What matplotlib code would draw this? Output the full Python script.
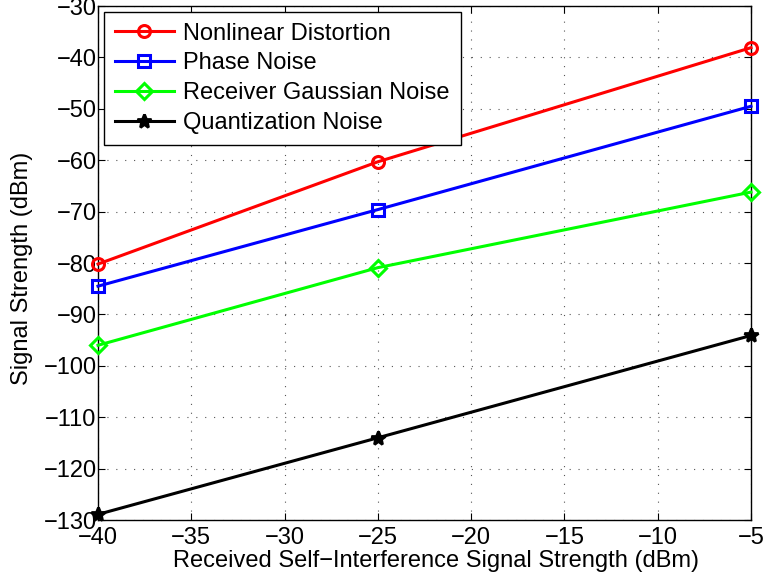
import matplotlib
matplotlib.use('Agg')
import matplotlib.pyplot as plt

plt.rcParams['font.family'] = ['Liberation Sans', 'DejaVu Sans']

# data
x_si = [-40, -25, -5]
nonlinear = [-80.2, -60.3, -38.1]
phase = [-84.5, -69.6, -49.5]
gaussian = [-96.0, -80.9, -66.2]
quantization = [-128.9, -114.0, -94.1]

x_ticks = [-40, -35, -30, -25, -20, -15, -10, -5]
y_ticks = [-130, -120, -110, -100, -90, -80, -70, -60, -50, -40, -30]

fig = plt.figure(figsize=(7.64, 5.86), dpi=100)
ax = fig.add_axes([0.1283, 0.1126, 0.8547, 0.8771])

ax.plot(x_si, nonlinear, color='#ff0000', lw=2.2, marker='o', ms=8.6,
        mfc='none', mew=2.2, label='Nonlinear Distortion', clip_on=False, zorder=3)
ax.plot(x_si, phase, color='#0000ff', lw=2.2, marker='s', ms=8.6,
        mfc='none', mew=2.2, label='Phase Noise', clip_on=False, zorder=3)
ax.plot(x_si, gaussian, color='#00ff00', lw=2.2, marker='D', ms=8,
        mfc='none', mew=2.2, label='Receiver Gaussian Noise', clip_on=False, zorder=3)
ax.plot(x_si, quantization, color='black', lw=2.2, marker='*', ms=10,
        mew=2.0, label='Quantization Noise', clip_on=False, zorder=3)

ax.set_xlim(-40, -5)
ax.set_ylim(-130, -30)
ax.set_xticks(x_ticks)
ax.set_yticks(y_ticks)
ax.tick_params(direction='in', top=True, right=True, labelsize=17, length=5, width=0.8)
ax.tick_params(axis='x', pad=5)
ax.tick_params(axis='y', pad=1)
ax.grid(True, linestyle=(0, (1, 7)), color='#555555', linewidth=0.8)
for s in ax.spines.values():
    s.set_linewidth(1.0)

ax.set_xlabel('Received Self\u2212Interference Signal Strength (dBm)', fontsize=17)
ax.set_ylabel('Signal Strength (dBm)', fontsize=17)
ax.xaxis.set_label_coords(0.518, -0.058)
ax.yaxis.set_label_coords(-0.099, 0.49)

leg = ax.legend(loc='upper left', fontsize=17, handlelength=2.5, fancybox=False,
                framealpha=1, edgecolor='black', borderpad=0.45, labelspacing=0.33,
                handletextpad=0.42, borderaxespad=0.25)
leg.get_frame().set_linewidth(1.0)

fig.savefig('out.png', dpi=100)
plt.close()
